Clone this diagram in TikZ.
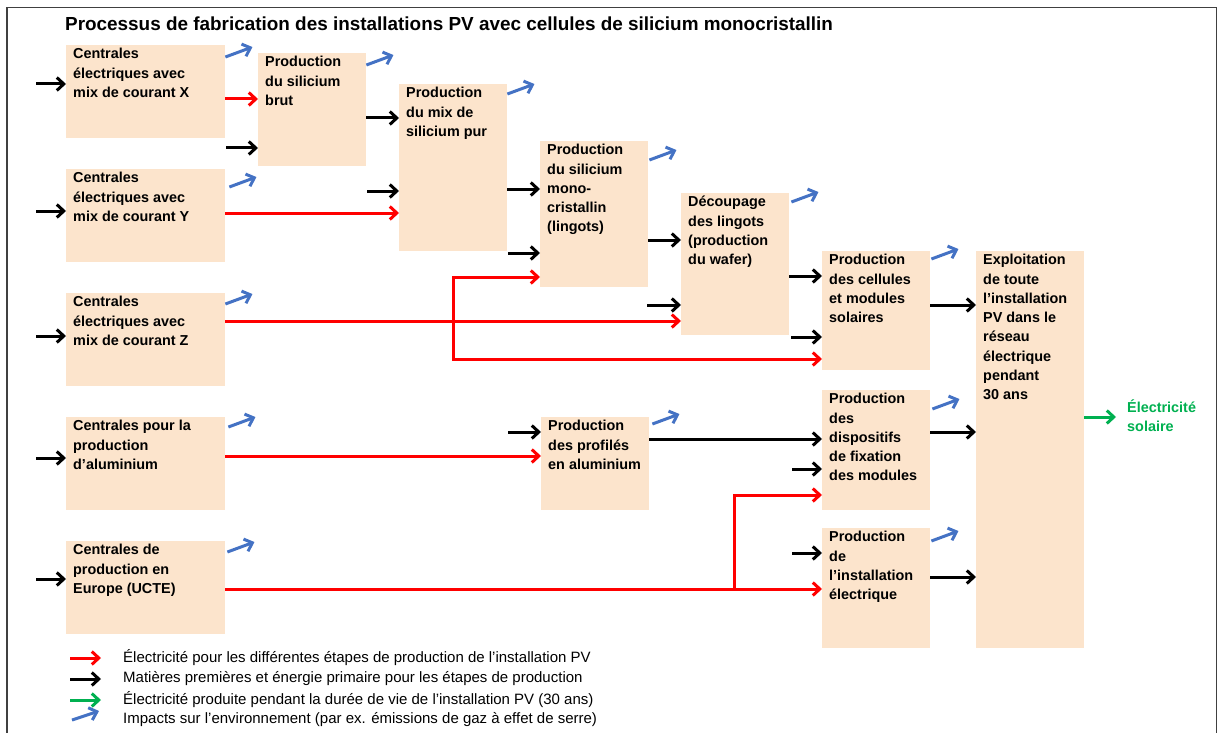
\documentclass[tikz,border=0pt]{standalone}
\usepackage{fontspec}
\setmainfont{Liberation Sans}
\usetikzlibrary{arrows.meta,calc}

\definecolor{boxc}{HTML}{FCE4CC}
\definecolor{elecred}{HTML}{FF0000}
\definecolor{prodgreen}{HTML}{00B050}
\definecolor{impblue}{HTML}{4472C4}
\definecolor{framec}{HTML}{404040}

\newcommand\boxfont{\fontsize{14.4}{19.3}\selectfont\bfseries}
% process box: name, x, y (top left), width, height, lines
\newcommand\procbox[6]{%
  \node[box] (#1) at (#2,#3)
    {\parbox[t][#5pt][t]{\dimexpr #4pt-14pt\relax}{\raggedright\strut #6}};}

\begin{document}
\begin{tikzpicture}[x=1pt,y=-1pt,
  box/.style={fill=boxc, anchor=north west, inner xsep=7pt, inner ysep=0pt,
              font=\boxfont, text=black},
  arr/.style={line width=3pt, -{Straight Barb[length=7pt,width=13pt]}},
  elec/.style={arr, draw=elecred},
  raw/.style={arr, draw=black},
  prod/.style={arr, draw=prodgreen},
  imp/.style={arr, draw=impblue},
  legtxt/.style={anchor=west, inner sep=0pt, font=\fontsize{15}{18}\selectfont},
  ]
\useasboundingbox (0,0) rectangle (1218,733);

% outer frame (open at the bottom)
\draw[framec, line width=1.6pt] (7,733) -- (7,7.5) -- (1216.5,7.5) -- (1216.5,733);

% title
\node[anchor=base west, inner sep=0pt, font=\fontsize{18.9}{23}\selectfont\bfseries]
  (title) at (65,31) {Processus de fabrication des installations PV avec cellules de silicium monocristallin};

% power plants
\procbox{X}{66}{45}{159}{93}{Centrales\\électriques avec\\mix de courant X}
\procbox{Y}{66}{169}{159}{93}{Centrales\\électriques avec\\mix de courant Y}
\procbox{Z}{66}{293}{159}{93}{Centrales\\électriques avec\\mix de courant Z}
\procbox{Al}{66}{417}{159}{93}{Centrales pour la\\production\\d’aluminium}
\procbox{U}{66}{541}{159}{93}{Centrales de\\production en\\Europe (UCTE)}

% production chain
\procbox{brut}{258}{53}{108}{113}{Production\\du silicium\\brut}
\procbox{pur}{399}{84}{108}{167}{Production\\du mix de\\silicium pur}
\procbox{mono}{540}{141}{108}{146}{Production\\du silicium\\mono-\\cristallin\\(lingots)}
\procbox{dec}{681}{193}{108}{142}{Découpage\\des lingots\\(production\\du wafer)}
\procbox{prof}{541}{417}{108}{93}{Production\\des profilés\\en aluminium}
\procbox{cell}{822}{251}{108}{119}{Production\\des cellules\\et modules\\solaires}
\procbox{fix}{822}{390}{108}{120}{Production\\des\\dispositifs\\de fixation\\des modules}
\procbox{inst}{822}{528}{108}{120}{Production\\de\\l’installation\\électrique}
\procbox{expl}{976}{251}{108}{397}{Exploitation\\de toute\\l’installation\\PV dans le\\réseau\\électrique\\pendant\\30 ans}

% output label
\node[anchor=west, inner sep=0pt, align=left, text=prodgreen, font=\boxfont]
  (sol) at (1127,416) {Électricité\\solaire};

% ---- electricity supply (red)
\coordinate (zsplit) at (453,321);
\coordinate (usplit) at (734,589);
\draw[elec] (X.east |- 0,99) -- (brut.west |- 0,99);
\draw[elec] (Y.east |- 0,213) -- (pur.west |- 0,213);
\draw[elec] (Z.east |- 0,321) -- (dec.west |- 0,321);
\draw[elec] (zsplit) |- (mono.west |- 0,277);
\draw[elec] (zsplit) |- (cell.west |- 0,359);
\draw[elec] (Al.east |- 0,456) -- (prof.west |- 0,456);
\draw[elec] (U.east |- 0,589) -- (inst.west |- 0,589);
\draw[elec] (usplit) |- (fix.west |- 0,495);

% ---- raw materials and primary energy (black)
\coordinate (inX) at (36,84);
\coordinate (inY) at (36,211);
\coordinate (inZ) at (36,336);
\coordinate (inAl) at (36,458);
\coordinate (inU) at (36,579);
\coordinate (inBrut) at (226,148);
\coordinate (inPur) at (367,191);
\coordinate (inMono) at (508,253);
\coordinate (inDec) at (647,305);
\coordinate (inCell) at (791,337);
\coordinate (inProf) at (508,432);
\coordinate (inFix) at (792,469);
\coordinate (inInst) at (792,553);
\draw[raw] (inX) -- (X.west |- inX);
\draw[raw] (inY) -- (Y.west |- inY);
\draw[raw] (inZ) -- (Z.west |- inZ);
\draw[raw] (inAl) -- (Al.west |- inAl);
\draw[raw] (inU) -- (U.west |- inU);
\draw[raw] (inBrut) -- (brut.west |- inBrut);
\draw[raw] (brut.east |- 0,118) -- (pur.west |- 0,118);
\draw[raw] (inPur) -- (pur.west |- inPur);
\draw[raw] (pur.east |- 0,189) -- (mono.west |- 0,189);
\draw[raw] (inMono) -- (mono.west |- inMono);
\draw[raw] (mono.east |- 0,240) -- (dec.west |- 0,240);
\draw[raw] (inDec) -- (dec.west |- inDec);
\draw[raw] (dec.east |- 0,276) -- (cell.west |- 0,276);
\draw[raw] (inCell) -- (cell.west |- inCell);
\draw[raw] (inProf) -- (prof.west |- inProf);
\draw[raw] (prof.east |- 0,439) -- (fix.west |- 0,439);
\draw[raw] (inFix) -- (fix.west |- inFix);
\draw[raw] (inInst) -- (inst.west |- inInst);
\draw[raw] (cell.east |- 0,305) -- (expl.west |- 0,305);
\draw[raw] (fix.east |- 0,432) -- (expl.west |- 0,432);
\draw[raw] (inst.east |- 0,577) -- (expl.west |- 0,577);

% ---- solar electricity (green)
\draw[prod] (expl.east |- 0,417) -- ([xshift=-11pt]sol.west |- 0,417);

% ---- environmental impacts (blue)
\draw[imp] ($(X.north east)+(0,12)$) -- ++(27,-10);
\draw[imp] ($(Y.north east)+(4,18)$) -- ++(27,-10);
\draw[imp] ($(Z.north east)+(0,11)$) -- ++(27,-10);
\draw[imp] ($(Al.north east)+(3,10)$) -- ++(27,-10);
\draw[imp] ($(U.north east)+(2,11)$) -- ++(27,-10);
\draw[imp] ($(brut.north east)+(0,12)$) -- ++(27,-10);
\draw[imp] ($(pur.north east)+(0,10)$) -- ++(27,-10);
\draw[imp] ($(mono.north east)+(1,19)$) -- ++(27,-10);
\draw[imp] ($(dec.north east)+(2,9)$) -- ++(27,-10);
\draw[imp] ($(prof.north east)+(3,7)$) -- ++(27,-10);
\draw[imp] ($(cell.north east)+(1,8)$) -- ++(27,-10);
\draw[imp] ($(fix.north east)+(2,19)$) -- ++(27,-10);
\draw[imp] ($(inst.north east)+(1,13)$) -- ++(27,-10);

% ---- legend
\node[legtxt] (leg1) at (123,658) {Électricité pour les différentes étapes de production de l’installation PV};
\node[legtxt] (leg2) at (123,679) {Matières premières et énergie primaire pour les étapes de production};
\node[legtxt] (leg3) at (123,700) {Électricité produite pendant la durée de vie de l’installation PV (30 ans)};
\node[legtxt] (leg4) at (123,720) {Impacts sur l’environnement (par ex. émissions de gaz à effet de serre)};
\draw[elec] ([xshift=-53pt]leg1.west) -- ([xshift=-22pt]leg1.west);
\draw[raw] ([xshift=-53pt]leg2.west) -- ([xshift=-22pt]leg2.west);
\draw[prod] ([xshift=-53pt]leg3.west) -- ([xshift=-22pt]leg3.west);
\draw[imp] ($(leg4.west)+(-51,0)$) -- ++(27,-9);
\end{tikzpicture}
\end{document}
